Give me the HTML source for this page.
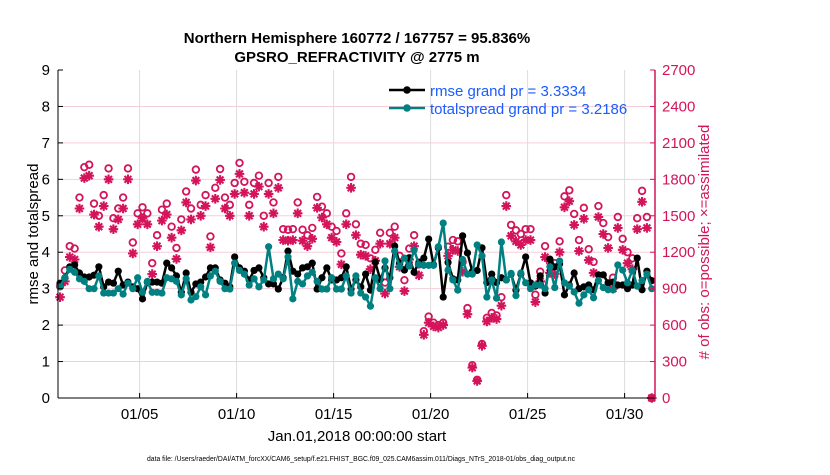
<!DOCTYPE html>
<html><head><meta charset="utf-8"><style>
body{margin:0;background:#fff;}
svg text{font-family:"Liberation Sans",sans-serif;}
</style></head><body>
<svg id="chart" width="830" height="470" xmlns="http://www.w3.org/2000/svg">
<g id="grid"></g>
<g id="series"></g>
<g id="axes"></g>
<text x="357" y="43" text-anchor="middle" font-size="15" font-weight="bold">Northern Hemisphere 160772 / 167757 = 95.836%</text>
<text x="357" y="62" text-anchor="middle" font-size="15" font-weight="bold">GPSRO_REFRACTIVITY @ 2775 m</text>
<text transform="translate(38,234) rotate(-90)" text-anchor="middle" font-size="15">rmse and totalspread</text>
<text transform="translate(709,242) rotate(-90)" text-anchor="middle" font-size="15" fill="#d4145a"># of obs: o=possible; ×=assimilated</text>
<text x="357" y="441" text-anchor="middle" font-size="15">Jan.01,2018 00:00:00 start</text>
<text x="361" y="461" text-anchor="middle" font-size="7" textLength="428" lengthAdjust="spacingAndGlyphs">data file: /Users/raeder/DAI/ATM_forcXX/CAM6_setup/f.e21.FHIST_BGC.f09_025.CAM6assim.011/Diags_NTrS_2018-01/obs_diag_output.nc</text>
<g>
<line x1="389" y1="90" x2="425" y2="90" stroke="#000" stroke-width="2.5"/><circle cx="407" cy="90" r="3.8" fill="#000"/>
<text x="430" y="96" font-size="15" fill="#1a5cff">rmse grand pr = 3.3334</text>
<line x1="389" y1="108" x2="425" y2="108" stroke="#008080" stroke-width="2.5"/><circle cx="407" cy="108" r="3.8" fill="#008080"/>
<text x="430" y="114" font-size="15" fill="#1a5cff">totalspread grand pr = 3.2186</text>
</g>
</svg>
<script>
const rmse=[3.15,3.3,3.6,3.65,3.43,3.32,3.32,3.37,3.6,3.05,3.18,3.15,3.48,3.1,3.18,3.05,3.0,2.72,3.18,3.18,3.18,3.15,3.7,3.57,3.35,2.9,3.43,2.9,3.13,3.18,3.32,3.57,
3.57,3.24,3.15,3.05,3.87,3.57,3.48,3.24,3.5,3.57,3.3,3.13,3.13,2.99,3.3,4.03,3.48,3.4,3.57,3.6,3.7,2.99,3.3,3.57,3.24,3.24,3.3,3.6,2.99,3.24,3.05,3.4,
2.96,3.73,3.25,3.57,3.3,4.17,3.7,3.51,3.85,3.45,3.73,3.84,4.36,3.66,4.12,2.77,3.72,3.27,3.24,4.45,3.98,3.47,3.5,4.12,3.17,3.4,3.17,3.3,3.24,3.4,2.96,
3.4,3.87,3.16,3.07,3.35,2.88,3.81,3.6,3.68,2.83,3.1,3.43,3.0,3.05,3.1,2.97,3.38,3.38,3.16,3.18,3.1,3.1,3.0,3.1,3.84,2.97,3.48,3.22];
const spread=[3.05,3.3,3.53,3.45,3.27,3.2,3.0,3.0,3.35,2.88,2.88,2.88,3.0,2.85,3.15,3.0,3.3,2.9,3.2,2.9,2.9,2.88,3.3,3.27,3.2,2.83,3.27,2.69,2.78,3.05,2.83,3.35,
3.48,3.2,3.0,2.99,3.7,3.5,3.4,3.1,3.27,3.05,3.24,4.15,3.27,3.4,3.27,3.87,2.72,3.2,3.13,3.35,3.45,3.2,2.99,2.99,3.3,2.99,2.99,3.35,2.88,3.35,2.88,2.77,
2.52,3.3,3.0,3.76,3.0,4.03,3.6,3.84,3.62,4.06,3.66,3.64,3.64,3.64,4.15,4.8,3.51,3.24,2.96,3.8,3.4,3.4,4.2,3.9,2.77,3.24,2.74,4.28,3.24,3.42,2.81,
3.43,3.16,3.0,3.1,3.1,3.0,3.6,3.03,3.76,3.16,3.07,2.91,2.6,2.83,2.97,2.75,3.22,3.03,2.97,2.97,3.65,3.51,3.16,3.51,3.07,3.22,3.4,3.0];
const possible=[920,1050,1250,1230,1650,1900,1920,1600,1500,1670,1890,1480,1560,1650,1890,1280,1520,1570,1520,1110,1340,1550,1600,1410,1235,1470,1700,1560,1880,1590,1670,1330,1730,1885,1650,1590,1770,1935,1780,1590,1770,1830,1500,1770,1610,1820,1390,1385,1390,1610,1385,1340,1400,1655,1575,1520,1410,1375,1190,1520,1820,1430,1270,1260,1150,1220,1360,950,1360,1410,1170,970,1230,1340,1100,550,670,620,600,620,1245,1300,1290,1120,740,270,150,445,660,700,680,830,1670,1425,1380,1350,1390,1390,850,1040,1250,1120,1110,1290,1660,1710,1515,1300,1565,1225,1120,1580,1440,1325,990,1490,1310,1200,1150,1480,1705,1490,0];
const assimilated=[830,960,1160,1140,1560,1810,1830,1510,1410,1580,1800,1390,1470,1560,1800,1190,1430,1480,1430,1020,1250,1460,1510,1320,1145,1380,1610,1470,1790,1500,1580,1240,1640,1795,1560,1500,1680,1845,1690,1500,1680,1740,1410,1680,1520,1730,1300,1295,1300,1520,1295,1250,1310,1565,1485,1430,1320,1285,1100,1430,1730,1340,1180,1170,1060,1130,1270,860,1270,1320,1080,880,1140,1250,1010,520,620,590,580,600,1170,1220,1210,1040,690,250,140,430,630,660,650,760,1580,1335,1290,1260,1300,1300,790,960,1160,1030,1020,1200,1570,1620,1425,1210,1475,1135,1030,1490,1350,1235,900,1400,1220,1110,1060,1390,1615,1400,0];
const yTicks=[0,1,2,3,4,5,6,7,8,9];
const y2Ticks=[0,300,600,900,1200,1500,1800,2100,2400,2700];
const xTickDays=[4,9,14,19,24,29];
const xTickLabels=["01/05","01/10","01/15","01/20","01/25","01/30"];

const NS="http://www.w3.org/2000/svg";
const L=58,R=655,T=70,B=398;
const xS=d=>62+d*19.4;
const yS=v=>B-(v/9)*(B-T);
const y2S=c=>B-(c/2700)*(B-T);
const tOf=i=>i*0.25-0.1;
function mk(tag,at,parent){const e=document.createElementNS(NS,tag);for(const k in at)e.setAttribute(k,at[k]);parent.appendChild(e);return e;}
const grid=document.getElementById('grid'),ser=document.getElementById('series'),ax=document.getElementById('axes');
const PINK="#d4145a";
yTicks.forEach(v=>{
  if(v>0&&v<9){const g=mk('line',{x1:L,x2:R,y1:yS(v),y2:yS(v),stroke:'#f3cfdc','stroke-width':1},grid);
  
  }
  const tk=mk('line',{x1:L,x2:L+5,y1:yS(v),y2:yS(v),stroke:'#000'},ax);
  
  
  const t=mk('text',{x:L-8,y:yS(v)+5,'text-anchor':'end','font-size':15},ax);t.textContent=v;
  
  
});
y2Ticks.forEach(c=>{
  const tk=mk('line',{x1:R-5,x2:R,y1:y2S(c),y2:y2S(c),stroke:PINK},ax);
  
  
  const t=mk('text',{x:R+7,y:y2S(c)+5,'font-size':15,fill:PINK},ax);t.textContent=c;
  
  
});
xTickDays.forEach((d,i)=>{
  const g=mk('line',{x1:xS(d),x2:xS(d),y1:T,y2:B,stroke:'#dcdcdc','stroke-width':1},grid);
  
  
  const tk=mk('line',{x1:xS(d),x2:xS(d),y1:B-5,y2:B,stroke:'#000'},ax);
  
  
  const t=mk('text',{x:xS(d),y:B+21,'text-anchor':'middle','font-size':15},ax);t.textContent=xTickLabels[i];
  
  
});
const la=mk('line',{x1:L,x2:L,y1:T,y2:B,stroke:'#000','stroke-width':1},ax);


const ba=mk('line',{x1:L,x2:R,y1:B,y2:B,stroke:'#000','stroke-width':1},ax);


const ra=mk('line',{x1:R,x2:R,y1:T,y2:B,stroke:PINK,'stroke-width':1.5},ax);



possible.forEach((c,i)=>{
  const x=xS(tOf(i)),y=y2S(c);
  const e=mk('circle',{cx:x,cy:y,r:3.3,fill:'none',stroke:PINK,'stroke-width':1.8},ser);
  
  
});
assimilated.forEach((c,i)=>{
  const x=xS(tOf(i)),y=y2S(c),r=4.8,d=r*0.707;
  const p=`M${x-r},${y}H${x+r}M${x},${y-r}V${y+r}M${x-d},${y-d}L${x+d},${y+d}M${x-d},${y+d}L${x+d},${y-d}`;
  const e=mk('path',{d:p,stroke:PINK,'stroke-width':2.1},ser);
  
  
});
function line(arr,col,name){
  const pts=arr.map((v,i)=>xS(tOf(i)).toFixed(1)+','+yS(v).toFixed(1)).join(' ');
  const pl=mk('polyline',{points:pts,fill:'none',stroke:col,'stroke-width':2.5,'stroke-linejoin':'round'},ser);
  
  
  arr.forEach((v,i)=>{
    const c=mk('circle',{cx:xS(tOf(i)),cy:yS(v),r:3.6,fill:col},ser);
    
    
  });
}
line(rmse,'#000','rmse');
line(spread,'#008080','totalspread');
</script>
</body></html>
